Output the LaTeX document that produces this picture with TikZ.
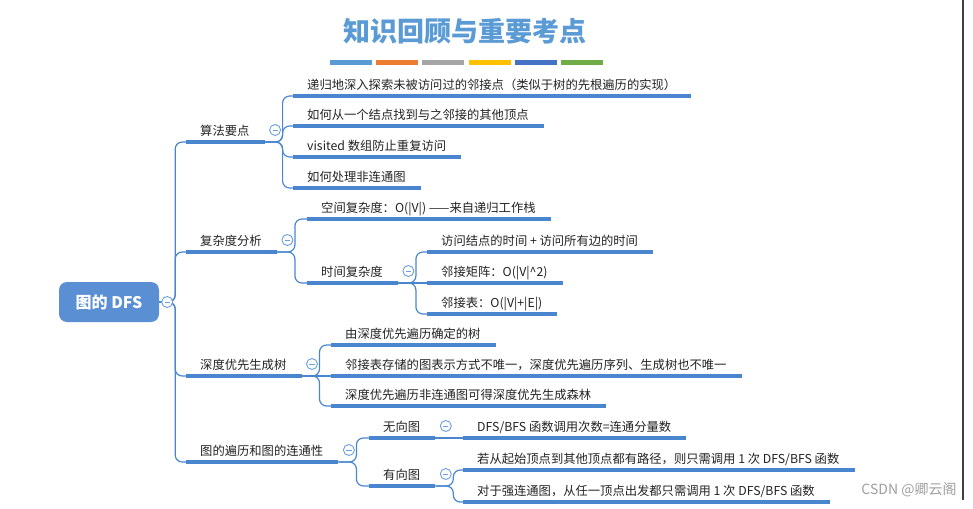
\documentclass[tikz,border=0pt]{standalone}
\usepackage{fontspec}
\setmainfont{Noto Sans CJK SC}
\usetikzlibrary{positioning, calc, backgrounds}
\definecolor{titleblue}{HTML}{5B9BD5}
\definecolor{rootblue}{HTML}{5A8FD3}
\definecolor{lineblue}{HTML}{4A86D0}
\definecolor{foldblue}{HTML}{6A9EE0}
\definecolor{textgray}{HTML}{222222}
\definecolor{barA}{HTML}{5B9BD5}
\definecolor{barB}{HTML}{ED7D31}
\definecolor{barC}{HTML}{A5A5A5}
\definecolor{barD}{HTML}{FFC000}
\definecolor{barE}{HTML}{4472C4}
\definecolor{barF}{HTML}{70AD47}
\tikzset{
  rootbox/.style={
    fill=rootblue, rounded corners=8pt,
    minimum width=100pt, minimum height=40pt,
    text=white, font=\fontsize{16}{18}\selectfont\bfseries
  },
  topic/.style={
    anchor=base west, inner sep=0pt, text=textgray,
    font=\fontsize{12.3}{14}\selectfont
  },
  % Underline below a topic
  uline/.style={draw=lineblue, line width=3.4pt},
  % Branch line between topics
  conn/.style={draw=lineblue, line width=1.2pt, rounded corners=7pt},
  % Collapse mark
  foldmark/.style={
    circle, draw=foldblue, line width=0.9pt, fill=white,
    minimum size=11pt, inner sep=0pt,
    path picture={\draw[foldblue, line width=0.9pt]
      ([xshift=-2.6pt]path picture bounding box.center) --
      ([xshift=2.6pt]path picture bounding box.center);}
  },
  heading/.style={text=titleblue, font=\fontsize{27}{30}\selectfont\bfseries},
  watermark/.style={text=black!38, font=\fontsize{14}{16}\selectfont},
}
\newcommand{\topic}[4]{%
  \node[topic] (#1) at ({#2+14},{#3-6.5}) {#4};      % text
  \coordinate (#1l) at (#2,#3);                       % left end
  \path (#1.base east |- #1l) ++(15,0) coordinate (#1r); % right end
  \draw[uline] (#1l) -- (#1r);
}
\newcommand{\foldat}[1]{%
  \node[foldmark] (#1f) at ($(#1r)+(10.5,-12)$) {};
}
\begin{document}
\begin{tikzpicture}[x=1pt, y=-1pt]
  \useasboundingbox (0,0) rectangle (973,508);
  \draw[line width=1.2pt, black!75] (963,0) -- (963,500);

  %% ── Title ──
  \node[heading] (title) at (465,31) {知识回顾与重要考点};
  \foreach \c [count=\i from 0] in {barA,barB,barC,barD,barE,barF}
    \fill[\c] ({330+46.2*\i},60) rectangle ++(42,5);

  %% ── Root ──
  \node[rootbox] (root) at (109,302) {图的 DFS};
  \node[foldmark] (rootf) at ($(root.east)+(8,0)$) {};

  %% ── Level 1 ──
  \topic{A}{186}{142}{算法要点}          \foldat{A}
  \topic{B}{186}{252}{复杂度分析}        \foldat{B}
  \topic{C}{186}{376}{深度优先生成树}    \foldat{C}
  \topic{D}{186}{462}{图的遍历和图的连通性} \foldat{D}

  %% ── 算法要点 ──
  \topic{a1}{293}{96}{递归地深入探索未被访问过的邻接点（类似于树的先根遍历的实现）}
  \topic{a2}{293}{126}{如何从一个结点找到与之邻接的其他顶点}
  \topic{a3}{293}{157}{ visited 数组防止重复访问}
  \topic{a4}{293}{188}{如何处理非连通图}

  %% ── 复杂度分析 ──
  \topic{b1}{307}{219}{空间复杂度：O(|V|) ——来自递归工作栈}
  \topic{b2}{307}{283}{时间复杂度} \foldat{b2}
  \topic{b21}{427}{252}{访问结点的时间 + 访问所有边的时间}
  \topic{b22}{427}{283}{邻接矩阵：O(|V|\textasciicircum 2)}
  \topic{b23}{427}{314}{邻接表：O(|V|+|E|)}

  %% ── 深度优先生成树 ──
  \topic{c1}{331}{345}{由深度优先遍历确定的树}
  \topic{c2}{331}{376}{邻接表存储的图表示方式不唯一，深度优先遍历序列、生成树也不唯一}
  \topic{c3}{331}{406}{深度优先遍历非连通图可得深度优先生成森林}

  %% ── 图的遍历和图的连通性 ──
  \topic{d1}{369}{438}{无向图} \foldat{d1}
  \topic{d2}{369}{486}{有向图} \foldat{d2}
  \topic{d11}{463}{438}{DFS/BFS 函数调用次数=连通分量数}
  \topic{d21}{463}{470}{若从起始顶点到其他顶点都有路径，则只需调用 1 次 DFS/BFS 函数}
  \topic{d22}{463}{502}{对于强连通图，从任一顶点出发都只需调用 1 次 DFS/BFS 函数}

  \node[watermark] (csdn) at (909,490) {CSDN @卿云阁};

  %% ── Branches ──
  \begin{scope}[on background layer]
    \foreach \t in {A,B,C,D}
      \draw[conn] (root.east) -- ++(16,0) |- (\t l);
    \foreach \t in {a1,a2,a3,a4}
      \draw[conn] (Ar) -- ++(18,0) |- (\t l);
    \foreach \t in {b1,b2}
      \draw[conn] (Br) -- ++(18,0) |- (\t l);
    \foreach \t in {b21,b23}
      \draw[conn] (b2r) -- ++(18,0) |- (\t l);
    \draw[conn] (b2r) -- (b22l);
    \foreach \t in {c1,c3}
      \draw[conn] (Cr) -- ++(18,0) |- (\t l);
    \draw[conn] (Cr) -- (c2l);
    \foreach \t in {d1,d2}
      \draw[conn] (Dr) -- ++(18,0) |- (\t l);
    \draw[conn] (d1r) -- (d11l);
    \foreach \t in {d21,d22}
      \draw[conn] (d2r) -- ++(18,0) |- (\t l);
  \end{scope}
\end{tikzpicture}
\end{document}
